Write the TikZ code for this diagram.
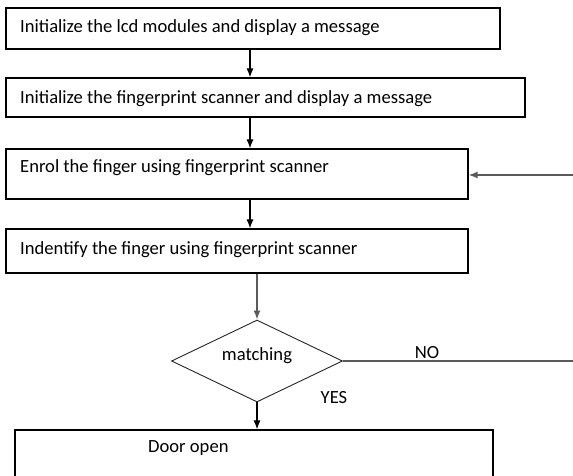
\documentclass[tikz,border=0pt]{standalone}
\usepackage{fontspec}
\setmainfont{Carlito}
\usetikzlibrary{shapes.geometric, arrows.meta}
\definecolor{customGrey}{HTML}{5A5A5A}

\begin{document}
\begin{tikzpicture} [
    x=1pt, y=-1pt,
    every node/.style={font=\fontsize{18.6}{20}\selectfont},
    stepBox/.style={rectangle, draw=black, line width=1.2pt, inner sep=0pt},
    decisionBox/.style={diamond, draw=black!85, line width=0.9pt, inner sep=0pt, minimum width=171pt, minimum height=82pt, aspect=2},
    boxText/.style={anchor=west, inner sep=0pt},
    arrow/.style={line width=1.1pt, -{Latex[length=9pt, width=7pt]}},
    greyArrow/.style={line width=1.5pt, -{Latex[length=9pt, width=7pt]}, color=customGrey},
    greyLine/.style={line width=1.5pt, color=customGrey}
]
    \clip (0, 0) rectangle (573, 476);
    \fill[white] (0, 0) rectangle (573, 476);

    % 1
    \node[stepBox, minimum width=494pt, minimum height=41pt] (initLcd) at (253, 28.5) {};
    \node[boxText] (initLcdText) at (20, 27.5) {Initialize the lcd modules and display a message};

    % 2
    \node[stepBox, minimum width=519pt, minimum height=39pt] (initScanner) at (265.5, 97.5) {};
    \node[boxText] (initScannerText) at (20, 98.5) {Initialize the fingerprint scanner and display a message};

    % 3
    \node[stepBox, minimum width=462pt, minimum height=50pt] (enrol) at (237, 174) {};
    \node[boxText] (enrolText) at (20, 167.5) {Enrol the finger using fingerprint scanner};

    % 4
    \node[stepBox, minimum width=462pt, minimum height=44pt] (identify) at (237, 251) {};
    \node[boxText] (identifyText) at (20, 249.5) {Indentify the finger using fingerprint scanner};

    % 5
    \node[decisionBox] (matching) at (257, 361) {};
    \node[inner sep=0pt] (matchingText) at (257, 355.5) {matching};

    \node[inner sep=0pt] (noLabel) at (427, 352.5) {NO};
    \node[inner sep=0pt] (yesLabel) at (334, 397.5) {YES};

    % 6
    \node[stepBox, minimum width=478pt, minimum height=70pt] (doorOpen) at (254, 465) {};
    \node[boxText] (doorOpenText) at (148, 448.5) {Door open};

    % arrows
    \coordinate (upperCol) at (250, 0);
    \coordinate (noEnd) at (573, 361);
    \coordinate (backStart) at (573, 175);

    \draw [arrow] (initLcd.south -| upperCol) -- (initScanner.north -| upperCol);
    \draw [arrow] (initScanner.south -| upperCol) -- (enrol.north -| upperCol);
    \draw [arrow] (enrol.south -| upperCol) -- (identify.north -| upperCol);
    \draw [greyArrow] (identify.south -| matching.north) -- (matching.north);
    \draw [arrow] (matching.south) -- (doorOpen.north -| matching.south);
    \draw [greyLine] (matching.east) -- (noEnd);
    \draw [greyArrow] (backStart) -- (enrol.east |- backStart);

\end{tikzpicture}
\end{document}
